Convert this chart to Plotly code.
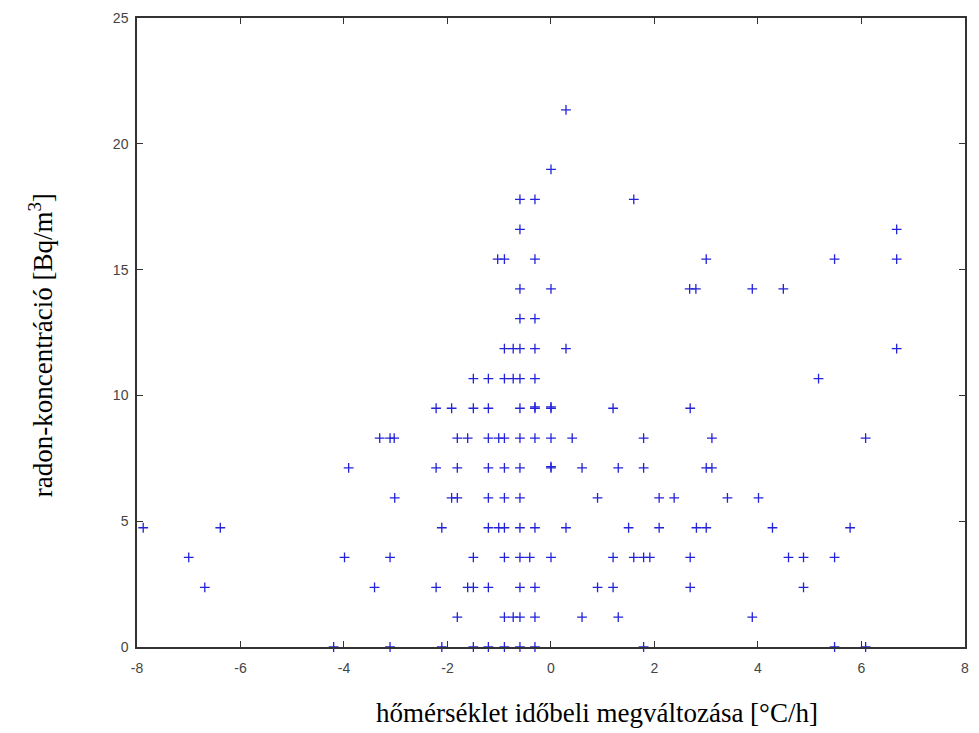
import plotly.graph_objects as go

# Values (temperature change [°C/h], radon concentration [Bq/m3])
rows = {
    0.00: [-4.2, -3.11, -2.11, -1.50, -1.21, -0.90, -0.60, -0.31, 1.79, 5.48, 6.08],
    1.19: [-1.81, -0.90, -0.73, -0.60, -0.31, 0.60, 1.30, 3.89],
    2.37: [-6.69, -3.41, -2.22, -1.61, -1.50, -1.21, -0.60, -0.31, 0.90, 1.20, 2.69, 4.88],
    3.56: [-7.0, -3.99, -3.11, -1.50, -0.90, -0.60, -0.41, 0.0, 1.20, 1.60, 1.79, 1.91, 2.69, 4.59, 4.88, 5.48],
    4.74: [-7.88, -6.39, -2.11, -1.21, -1.01, -0.90, -0.60, -0.31, 0.29, 1.50, 2.09, 2.81, 3.0, 4.28, 5.78],
    5.93: [-3.02, -1.92, -1.81, -1.21, -0.90, -0.60, 0.90, 2.09, 2.38, 3.41, 4.01],
    7.12: [-3.91, -2.22, -1.81, -1.21, -0.90, -0.60, 0.0, 0.60, 1.30, 1.79, 3.0, 3.11],
    7.17: [0.0],
    8.30: [-3.31, -3.11, -3.03, -1.81, -1.61, -1.21, -1.01, -0.90, -0.60, -0.31, 0.0, 0.41, 1.79, 3.11, 6.08],
    9.49: [-2.22, -1.92, -1.50, -1.21, -0.60, -0.31, 0.0, 1.20, 2.69],
    9.54: [-0.31, 0.0],
    10.67: [-1.50, -1.21, -0.90, -0.73, -0.60, -0.31, 5.17],
    11.86: [-0.90, -0.73, -0.60, -0.31, 0.29, 6.68],
    13.05: [-0.60, -0.31],
    14.23: [-0.60, 0.0, 2.68, 2.80, 3.89, 4.49],
    15.42: [-1.03, -0.90, -0.31, 3.0, 5.48, 6.68],
    16.60: [-0.60, 6.68],
    17.79: [-0.60, -0.31, 1.60],
    18.98: [0.0],
    21.35: [0.29],
}

x_vals = []
y_vals = []
for yv, xs in rows.items():
    for xv in xs:
        x_vals.append(xv)
        y_vals.append(yv)

x_ticks = [-8, -6, -4, -2, 0, 2, 4, 6, 8]
y_ticks = [0, 5, 10, 15, 20, 25]

fig = go.Figure()
fig.add_trace(go.Scatter(
    x=x_vals, y=y_vals, mode="markers",
    marker=dict(symbol="cross-thin", size=7, line=dict(width=1.3, color="#2323d8")),
    showlegend=False, cliponaxis=False,
))

axis_common = dict(
    showline=True, linecolor="#333333", linewidth=1.5, mirror="ticks",
    ticks="inside", ticklen=6, tickwidth=1.2, tickcolor="#333333",
    showgrid=False, zeroline=False,
    tickfont=dict(family="Liberation Sans", size=14, color="#444444"),
)

fig.update_xaxes(range=[-8, 8.0005], tickvals=x_ticks, ticktext=[str(t) for t in x_ticks],
                 ticklabelstandoff=7, ticklabeloverflow="allow", **axis_common)
fig.update_yaxes(range=[0, 25], tickvals=y_ticks, ticktext=[str(t) for t in y_ticks],
                 ticklabelstandoff=4, **axis_common)

fig.add_annotation(text="hőmérséklet időbeli megváltozása [°C/h]", xref="paper", yref="paper",
                   x=0.5553, y=-0.105, xanchor="center", yanchor="middle", showarrow=False,
                   font=dict(family="Liberation Serif", size=27, color="#000000"))
fig.add_annotation(text="radon-koncentráció [Bq/m<sup>3</sup>]", xref="paper", yref="paper",
                   x=-0.1165, y=0.479, xanchor="center", yanchor="middle", showarrow=False,
                   textangle=-90,
                   font=dict(family="Liberation Serif", size=27, color="#000000"))

fig.update_layout(
    width=979, height=733,
    margin=dict(l=137, r=10, t=18, b=86),
    plot_bgcolor="white", paper_bgcolor="white",
)

fig.write_html("out.html", config={"displayModeBar": False},
               post_script="document.body.style.margin='0';document.body.style.overflow='hidden';")
